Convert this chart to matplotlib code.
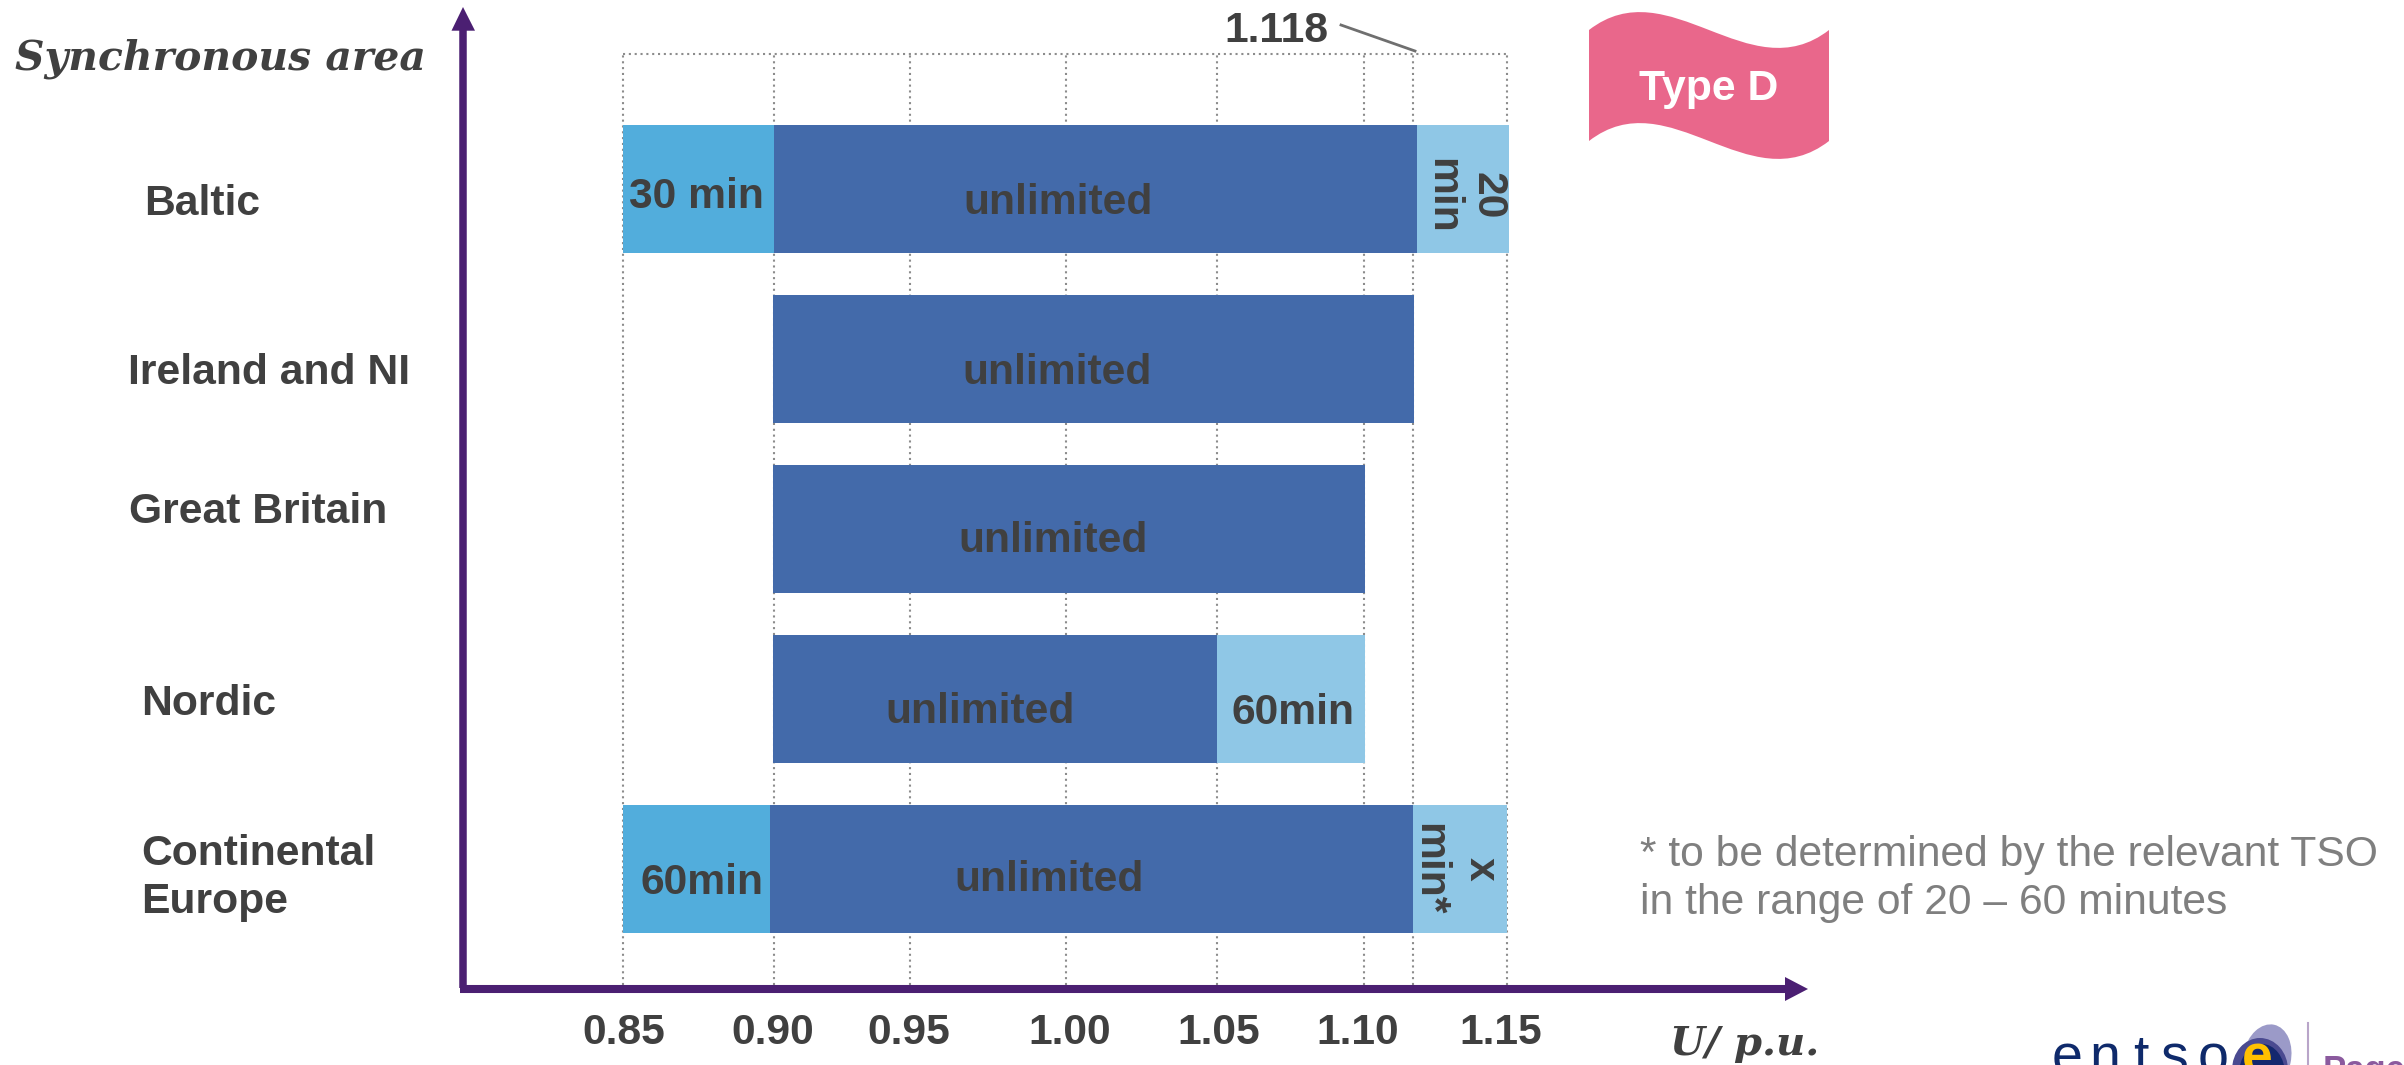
import numpy as np
import matplotlib
matplotlib.use('Agg')
import matplotlib.pyplot as plt
from matplotlib.patches import PathPatch, Ellipse, Polygon
from matplotlib.path import Path

W, H = 2404, 1065

areas = ['Continental\nEurope', 'Nordic', 'Great Britain', 'Ireland and NI', 'Baltic']
area_y = [0, 1, 2, 3, 4]
# (start, end, colour key) per area, in p.u.
continental = [(0.85, 0.8987, 'low'), (0.8987, 1.118, 'mid'), (1.118, 1.15, 'high')]
nordic = [(0.8997, 1.05, 'mid'), (1.05, 1.1005, 'high')]
britain = [(0.8997, 1.1005, 'mid')]
ireland = [(0.8997, 1.1185, 'mid')]
baltic = [(0.85, 0.9002, 'low'), (0.9002, 1.1195, 'mid'), (1.1195, 1.1507, 'high')]
segments = [continental, nordic, britain, ireland, baltic]

grid_values = [0.85, 0.90, 0.95, 1.00, 1.05, 1.10, 1.118, 1.15]
tick_labels = ['0.85', '0.90', '0.95', '1.00', '1.05', '1.10', '1.15']
# the axis in the slide is hand placed, so it is not quite linear
scale_values = grid_values + [1.16]
scale_pixels = [623, 773.5, 910, 1066, 1217, 1363.5, 1412.5, 1506.5, 1536]
tick_label_pixels = [624, 773, 909, 1070, 1219, 1358, 1501]

colours = {'low': '#52ADDC', 'mid': '#436AAA', 'high': '#8FC7E6'}
dark = '#404040'
grey = '#7F7F7F'
purple = '#4B1F72'
BOLD = 30.7


def forward(v):
    return np.interp(v, scale_values, scale_pixels)


def inverse(p):
    return np.interp(p, scale_pixels, scale_values)


plt.rcParams['font.family'] = ['Liberation Sans', 'DejaVu Sans']

fig = plt.figure(figsize=(W / 100, H / 100), dpi=100)
ax = fig.add_axes([623 / W, 1 - 985 / H, (1506.5 - 623) / W, (985 - 54) / H])
ax.set_xscale('function', functions=(forward, inverse))
ax.set_xlim(0.85, 1.15)
ax.set_ylim(-116 / 170, 815 / 170)
ax.set_xticks([])
ax.set_yticks([])
ax.minorticks_off()
ax.patch.set_visible(False)
for s in ax.spines.values():
    s.set_visible(False)

dots = (0, (1, 1.8))
for v in grid_values:
    ax.axvline(v, color='#8C8C8C', lw=1.5, ls=dots, zorder=1, clip_on=False)
ax.axhline(815 / 170, color='#8C8C8C', lw=1.5, ls=dots, zorder=1, clip_on=False)

for y, segs in zip(area_y, segments):
    for start, end, key in segs:
        ax.barh(y, end - start, left=start, height=128 / 170, color=colours[key], zorder=2, clip_on=False)

lab = dict(color=dark, fontsize=BOLD, fontweight='bold', ha='center', va='center', zorder=3, clip_on=False)
# bar labels sit off centre in the slide
unlimited_x = [0.9945, 0.9724, 0.9958, 0.997, 0.9974]
unlimited_y = [-0.065, 0.925, 1.93, 2.92, 3.92]
for x, y in zip(unlimited_x, unlimited_y):
    ax.text(x, y, 'unlimited', **lab)
ax.text(0.8743, 3.955, '30 min', **lab)
ax.text(1.0761, 0.92, '60min', **lab)
ax.text(0.8762, -0.085, '60min', **lab)
ax.text(1.1435, 3.96, '20', rotation=270, **lab)
ax.text(1.128, 3.96, 'min', rotation=270, **lab)
ax.text(1.1412, 0.0, 'x', rotation=270, **lab)
ax.text(1.1236, 0.0, 'min*', rotation=270, **lab)


def px(x, y):
    return x / W, 1 - y / H


def ftext(x, y, s, **kw):
    kw.setdefault('color', dark)
    kw.setdefault('va', 'center')
    fig.text(*px(x, y), s, **kw)


for x, y, s in [(144, 204, areas[4]), (128, 373, areas[3]), (129, 512, areas[2]),
                (141, 704, areas[1])]:
    ftext(x, y, s, fontsize=BOLD, fontweight='bold')
ftext(141, 878, areas[0], fontsize=BOLD, fontweight='bold', linespacing=1.28)
ftext(15, 59, 'Synchronous area', fontsize=29.4, fontweight='bold', style='italic', family='DejaVu Serif')
ftext(1224, 31, '1.118', fontsize=BOLD, fontweight='bold')
ftext(1640, 855, '* to be determined by the relevant TSO', fontsize=30.7, color=grey)
ftext(1640, 903, 'in the range of 20 – 60 minutes', fontsize=30.7, color=grey)
ftext(1670, 1044, 'U/ p.u.', fontsize=29, fontweight='bold', style='italic', family='DejaVu Serif')

for x, s in zip(tick_label_pixels, tick_labels):
    ftext(x, 1033, s, fontsize=BOLD, fontweight='bold', ha='center')

# leader line to 1.118
fig.add_artist(plt.Line2D(*zip(px(1341, 25), px(1415, 51)), color='#6F6F6F', lw=2))

# axes arrows
fig.add_artist(plt.Line2D(*zip(px(463, 988), px(463, 28)), color=purple, lw=5.4, solid_capstyle='butt'))
fig.add_artist(Polygon([px(451.5, 30.7), px(475, 30.7), px(463, 7)], closed=True, color=purple, lw=0, transform=fig.transFigure))
fig.add_artist(plt.Line2D(*zip(px(460, 989), px(1786, 989)), color=purple, lw=5.8, solid_capstyle='butt'))
fig.add_artist(Polygon([px(1785, 977), px(1785, 1001), px(1808, 989)], closed=True, color=purple, lw=0, transform=fig.transFigure))

# Type D flag
verts = [(1589, 30), (1669, -32), (1749, 92), (1829, 30), (1829, 141),
         (1749, 203), (1669, 79), (1589, 141), (1589, 30)]
codes = [Path.MOVETO, Path.CURVE4, Path.CURVE4, Path.CURVE4, Path.LINETO,
         Path.CURVE4, Path.CURVE4, Path.CURVE4, Path.CLOSEPOLY]
fig.add_artist(PathPatch(Path([px(*v) for v in verts], codes), fc='#E9678B', ec='none', transform=fig.transFigure))
ftext(1709, 89, 'Type D', fontsize=BOLD, fontweight='bold', color='white', ha='center')


# logo, cut by the bottom edge
def blob(x, y, w, h, c, angle=0):
    fig.add_artist(Ellipse((x, H - y), w, h, angle=angle, fc=c, ec='none', transform=None))


blob(2267, 1058, 48, 68, '#9B9AC8', -12)
blob(2260, 1070, 56, 64, '#4A4A90')
blob(2262, 1074, 46, 60, '#14286E')
navy = '#0F2A6B'
for x, ch in zip([2052, 2089, 2133, 2160, 2198], 'entso'):
    ftext(x, 1073, ch, fontsize=40, color=navy, va='baseline')
ftext(2242, 1073, 'e', fontsize=40, fontweight='bold', color='#FFC000', va='baseline')
fig.add_artist(plt.Line2D(*zip(px(2308, 1023), px(2308, 1065)), color='#B9A5C9', lw=1.5))
ftext(2323, 1080, 'Page', fontsize=25, fontweight='bold', color='#8B5A9E', va='baseline')

fig.savefig('out.png', dpi=100)
